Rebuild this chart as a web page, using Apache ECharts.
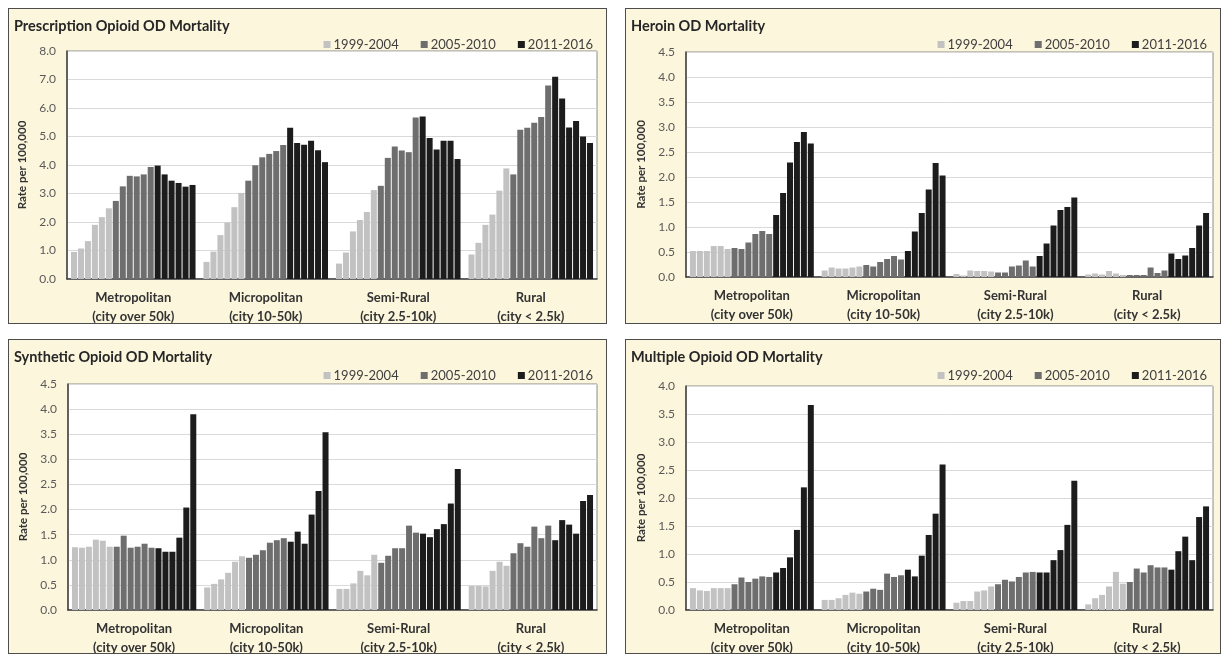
<!DOCTYPE html>
<html>
<head>
<meta charset="utf-8">
<script src="https://cdn.jsdelivr.net/npm/echarts@6/dist/echarts.min.js"></script>
<style>
  body { margin: 0; background: #fff; width: 1228px; height: 656px; overflow: hidden; }
  .panel {
    position: absolute;
    box-sizing: border-box;
    background: #fcf6dd;
    border: 1.5px solid #4d4d4d;
  }
</style>
</head>
<body>
<div id="p1" class="panel" style="left:8px;top:8px;width:599px;height:316px"></div>
<div id="p2" class="panel" style="left:625px;top:8px;width:596px;height:316px"></div>
<div id="p3" class="panel" style="left:8px;top:339px;width:599px;height:315px"></div>
<div id="p4" class="panel" style="left:625px;top:339px;width:596px;height:315px"></div>
<script>
const regions = [
  "Metropolitan\n(city over 50k)",
  "Micropolitan\n(city 10-50k)",
  "Semi-Rural\n(city 2.5-10k)",
  "Rural\n(city < 2.5k)",
];
const periods = ["1999-2004", "2005-2010", "2011-2016"];
const periodColors = ["#c2c2c2", "#6e6e6e", "#1c1c1c"];

// one row per region, 18 yearly rates 1999..2016
const prescription = [
  [0.95, 1.07, 1.33, 1.9, 2.17, 2.48, 2.74, 3.25, 3.62, 3.6, 3.67, 3.93, 3.98, 3.67, 3.45, 3.37, 3.24, 3.3],
  [0.6, 0.96, 1.54, 1.98, 2.52, 3.02, 3.45, 3.99, 4.27, 4.39, 4.49, 4.7, 5.31, 4.77, 4.71, 4.85, 4.52, 4.1],
  [0.54, 0.93, 1.67, 2.07, 2.35, 3.12, 3.27, 4.25, 4.65, 4.51, 4.45, 5.67, 5.7, 4.95, 4.54, 4.85, 4.85, 4.21],
  [0.86, 1.27, 1.9, 2.26, 3.1, 3.88, 3.67, 5.24, 5.31, 5.48, 5.68, 6.79, 7.1, 6.33, 5.32, 5.54, 5.0, 4.77],
];
const heroin = [
  [0.52, 0.52, 0.52, 0.62, 0.62, 0.56, 0.58, 0.56, 0.69, 0.86, 0.92, 0.86, 1.24, 1.68, 2.29, 2.7, 2.9, 2.67],
  [0.13, 0.19, 0.17, 0.17, 0.19, 0.21, 0.24, 0.21, 0.3, 0.36, 0.42, 0.35, 0.52, 0.91, 1.28, 1.75, 2.28, 2.03],
  [0.06, 0.03, 0.13, 0.12, 0.12, 0.11, 0.09, 0.09, 0.21, 0.23, 0.33, 0.21, 0.42, 0.67, 1.03, 1.34, 1.4, 1.59],
  [0.05, 0.07, 0.05, 0.12, 0.07, 0.04, 0.04, 0.04, 0.04, 0.19, 0.08, 0.13, 0.47, 0.36, 0.43, 0.58, 1.03, 1.28],
];
const synthetic = [
  [1.25, 1.24, 1.26, 1.4, 1.38, 1.26, 1.26, 1.48, 1.24, 1.26, 1.32, 1.24, 1.23, 1.16, 1.16, 1.44, 2.04, 3.9],
  [0.45, 0.52, 0.61, 0.74, 0.96, 1.07, 1.04, 1.1, 1.19, 1.34, 1.39, 1.43, 1.36, 1.56, 1.32, 1.9, 2.37, 3.54],
  [0.42, 0.42, 0.53, 0.78, 0.69, 1.1, 0.94, 1.08, 1.23, 1.23, 1.68, 1.54, 1.52, 1.45, 1.61, 1.71, 2.12, 2.81],
  [0.48, 0.48, 0.47, 0.78, 0.96, 0.88, 1.13, 1.33, 1.26, 1.66, 1.43, 1.68, 1.39, 1.79, 1.7, 1.52, 2.17, 2.29],
];
const multiple = [
  [0.39, 0.35, 0.34, 0.39, 0.39, 0.39, 0.46, 0.58, 0.5, 0.56, 0.6, 0.59, 0.67, 0.75, 0.94, 1.43, 2.19, 3.66],
  [0.18, 0.18, 0.21, 0.27, 0.31, 0.29, 0.33, 0.38, 0.36, 0.65, 0.59, 0.62, 0.72, 0.6, 0.97, 1.34, 1.72, 2.6],
  [0.13, 0.16, 0.16, 0.33, 0.35, 0.42, 0.46, 0.54, 0.51, 0.59, 0.67, 0.68, 0.67, 0.67, 0.89, 1.07, 1.52, 2.31],
  [0.1, 0.21, 0.27, 0.42, 0.68, 0.47, 0.5, 0.74, 0.67, 0.8, 0.76, 0.76, 0.72, 1.05, 1.31, 0.89, 1.66, 1.85],
];

const panels = [
  { id: "p1", title: "Prescription Opioid OD Mortality", data: prescription, max: 8, interval: 1,
    grid: { left: 58, right: 9, top: 42, bottom: 44 } },
  { id: "p2", title: "Heroin OD Mortality", data: heroin, max: 4.5, interval: 0.5,
    grid: { left: 60, right: 7, top: 43, bottom: 46 } },
  { id: "p3", title: "Synthetic Opioid OD Mortality", data: synthetic, max: 4.5, interval: 0.5,
    grid: { left: 59, right: 9, top: 44, bottom: 43 } },
  { id: "p4", title: "Multiple Opioid OD Mortality", data: multiple, max: 4, interval: 0.5,
    grid: { left: 60, right: 7, top: 46, bottom: 43 } },
];

const FONT = "Lato, 'Open Sans', sans-serif";

panels.forEach((p) => {
  const chart = echarts.init(document.getElementById(p.id), null, { renderer: "canvas" });
  const series = [];
  for (let j = 0; j < 18; j++) {
    const k = Math.floor(j / 6);
    series.push({
      type: "bar",
      name: periods[k],
      data: p.data.map((row) => row[j]),
      itemStyle: { color: periodColors[k] },
      barGap: "16%",
      barCategoryGap: "6%",
    });
  }
  chart.setOption({
    animation: false,
    textStyle: { fontFamily: FONT },
    title: {
      text: p.title,
      left: 0,
      top: 5,
      textStyle: { fontFamily: FONT, fontSize: 14.5, fontWeight: "bold", color: "#262626" },
    },
    legend: {
      data: periods,
      right: 8,
      top: 24,
      itemWidth: 7,
      itemHeight: 7,
      itemGap: 22,
      icon: "rect",
      textStyle: { fontFamily: FONT, fontSize: 13, color: "#404040", padding: [0, 0, 0, -2] },
    },
    grid: Object.assign({
      show: true,
      backgroundColor: "#ffffff",
      borderColor: "#8c8c8c",
      borderWidth: 1,
      outerBoundsMode: "none",
    }, p.grid),
    xAxis: {
      type: "category",
      data: regions,
      axisTick: { show: false },
      axisLine: { lineStyle: { color: "#404040", width: 1.5 } },
      axisLabel: {
        fontFamily: FONT,
        fontSize: 13,
        fontWeight: "bold",
        color: "#333",
        lineHeight: 19,
        margin: 9,
        interval: 0,
      },
    },
    yAxis: {
      type: "value",
      min: 0,
      max: p.max,
      interval: p.interval,
      name: "Rate per 100,000",
      nameLocation: "middle",
      nameRotate: 90,
      nameGap: 38,
      nameTextStyle: { fontFamily: FONT, fontSize: 11.5, fontWeight: "bold", color: "#333" },
      axisLine: { show: true, lineStyle: { color: "#404040", width: 1.5 } },
      axisTick: { show: false },
      axisLabel: {
        fontFamily: FONT,
        fontSize: 12,
        color: "#595959",
        margin: 11,
        formatter: (v) => v.toFixed(1),
      },
      splitLine: { lineStyle: { color: "#d9d9d9", width: 1 } },
    },
    series,
  });
});
</script>
</body>
</html>
